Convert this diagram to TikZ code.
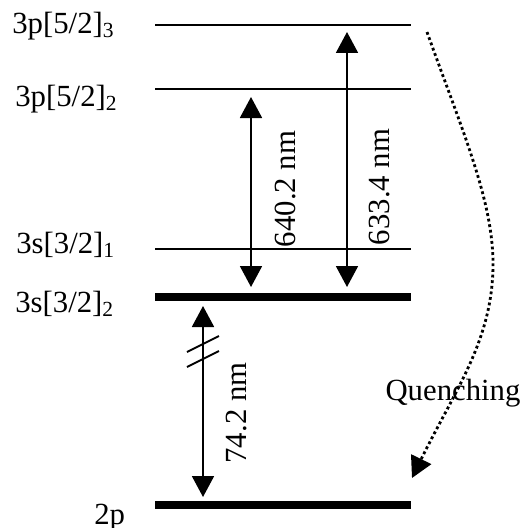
\documentclass[tikz,border=0pt]{standalone}
\usepackage{fontspec}
\setmainfont{Liberation Serif}
\usetikzlibrary{arrows.meta}

\begin{document}
\begin{tikzpicture}[
  x=0.02cm, y=-0.02cm,
  font=\fontsize{17.5}{20}\selectfont,
  level/.style={line width=1.1pt},
  metastable/.style={line width=4.6pt},
  trans/.style={{Triangle[width=0.44cm, length=0.42cm]}-{Triangle[width=0.44cm, length=0.42cm]}, line width=1.1pt},
  quench/.style={-{Triangle[width=0.44cm, length=0.42cm]}, line width=1.6pt, dash pattern=on 1.6pt off 1.6pt},
  statelabel/.style={anchor=base west, inner sep=0pt},
]
  \useasboundingbox (0,0) rectangle (524,528);

  % Thin levels
  \foreach \name/\y in {p3/25, p2/89, s1/249} {
    \draw [level] (155,\y) coordinate (\name W) -- (411,\y) coordinate (\name E);
  }
  % Thick levels
  \foreach \name/\y in {s2/297, g/505} {
    \draw [metastable] (155,\y) coordinate (\name W) -- (411,\y) coordinate (\name E);
  }

  % Level names
  \node (lp3) [statelabel] at (12,33) {3p[5/2]\textsubscript{3}};
  \node (lp2) [statelabel] at (15,106) {3p[5/2]\textsubscript{2}};
  \node (ls1) [statelabel] at (16,253) {3s[3/2]\textsubscript{1}};
  \node (ls2) [statelabel] at (15,312) {3s[3/2]\textsubscript{2}};
  \node (lg) [statelabel] at (94,524) {2p};

  % Arrow ends
  \coordinate (a640top) at (251,97);
  \coordinate (a640bot) at (251,287);
  \coordinate (a633top) at (347,32);
  \coordinate (a633bot) at (347,287);
  \coordinate (a74top) at (203,306);
  \coordinate (a74bot) at (203,497);

  % Transitions
  \draw [trans] (a640top) -- (a640bot);
  \draw [trans] (a633top) -- (a633bot);
  \draw [trans] (a74top) -- (a74bot);
  \draw [line width=1.1pt] (187,352) -- (219,336);
  \draw [line width=1.1pt] (187,367) -- (219,351);

  \node (w640) [rotate=90] at (285,189) {640.2 nm};
  \node (w633) [rotate=90] at (380,187) {633.4 nm};
  \node (w74) [rotate=90] at (237,413) {74.2 nm};

  % Quenching
  \coordinate (qstart) at (427,32);
  \coordinate (qmid) at (493,264);
  \coordinate (qend) at (412,478);
  \draw [quench] (qstart) .. controls (462,130) and (493,200) .. (qmid)
    .. controls (493,340) and (455,390) .. (qend);
  \node (qlabel) at (453,393) {Quenching};

\end{tikzpicture}
\end{document}
